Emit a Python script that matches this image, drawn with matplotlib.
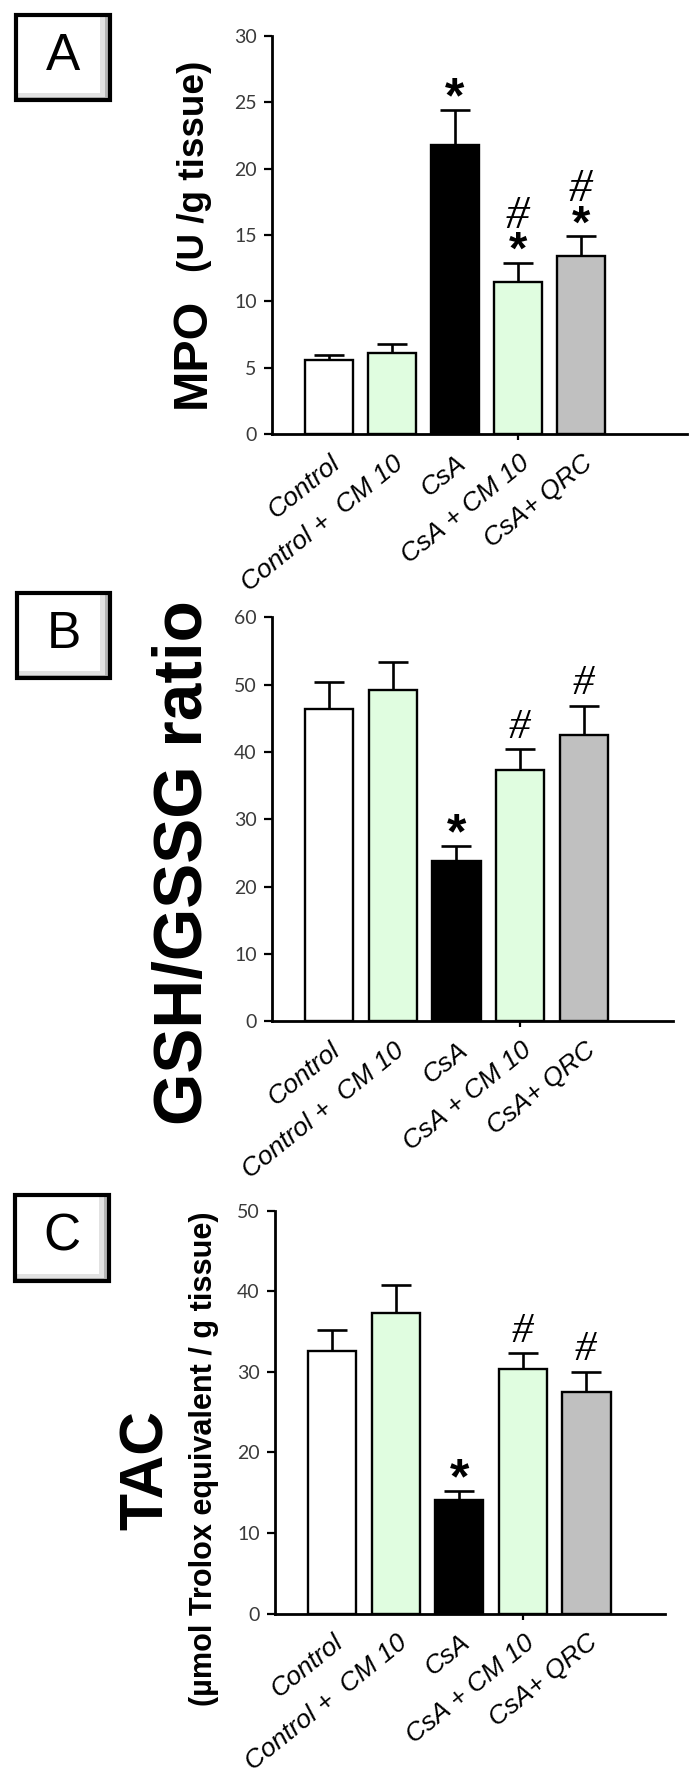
import matplotlib
matplotlib.use("Agg")
import matplotlib.pyplot as plt
import matplotlib.patches as mpatches
import matplotlib.transforms as mtransforms
from matplotlib.font_manager import FontProperties
import numpy as np

# mathtext fonts for the significance symbols (tight glyph boxes)
plt.rcParams["mathtext.fontset"] = "custom"
plt.rcParams["mathtext.bf"] = "Liberation Sans:bold"
plt.rcParams["mathtext.rm"] = "Liberation Serif:italic"
plt.rcParams["mathtext.it"] = "Liberation Serif:italic"

W, H = 692, 1780
DPI = 100

# ---------------- data ----------------
groups = ["Control", "Control +  CM 10", "CsA", "CsA + CM 10", "CsA+ QRC"]
bar_colors = ["#ffffff", "#e0fde0", "#000000", "#e0fde0", "#c0c0c0"]

mpo_mean = [5.6, 6.1, 21.8, 11.5, 13.4]
mpo_sem = [0.4, 0.7, 2.6, 1.4, 1.5]
mpo_marks = ["", "", "*", "*#", "*#"]
mpo_ticks = [0, 5, 10, 15, 20, 25, 30]

gsh_mean = [46.4, 49.2, 23.8, 37.4, 42.5]
gsh_sem = [4.0, 4.2, 2.2, 3.0, 4.4]
gsh_marks = ["", "", "*", "#", "#"]
gsh_ticks = [0, 10, 20, 30, 40, 50, 60]

tac_mean = [32.6, 37.3, 14.1, 30.3, 27.5]
tac_sem = [2.6, 3.5, 1.1, 2.0, 2.5]
tac_marks = ["", "", "*", "#", "#"]
tac_ticks = [0, 10, 20, 30, 40, 50]

panel_letters = ["A", "B", "C"]

# ---------------- figure ----------------
fig = plt.figure(figsize=(W / DPI, H / DPI), dpi=DPI)
fig.patch.set_facecolor("white")
renderer = fig.canvas.get_renderer()


def px_rect(left, top, right, bottom):
    return [left / W, 1 - bottom / H, (right - left) / W, (bottom - top) / H]


def fx(px):
    return px / W


def fy(py):
    return 1 - py / H


PT = 72.0 / DPI  # points per pixel

# symbol text, font size (pt) and height of the glyph centre above baseline (em)
sym_text = {"*": r"$\mathbf{*}$", "#": r"$\mathrm{\#}$"}
sym_size = {"*": 36, "#": 31}
stack_size = 34
sym_center = {"*": 0.55, "#": 0.338}
FIRST_GAP = 26   # px from error-bar cap to centre of first symbol
STEP = 25        # px between centres of stacked symbols


def fitted_size(text_obj, target_len, along="width"):
    """Scale a text's font size so that its extent matches target_len px."""
    fs = text_obj.get_fontsize()
    for _ in range(3):
        bb = text_obj.get_window_extent(renderer)
        cur = bb.width if along == "width" else bb.height
        fs = fs * target_len / cur
        text_obj.set_fontsize(fs)
    return fs


# size of category labels, fitted to the longest label
_probe = fig.text(0, 0, groups[1], fontstyle="italic",
                  family="Liberation Sans", fontsize=18)
cat_size = fitted_size(_probe, 200, "width")
_probe.remove()


def add_marks(ax, xi, ytop, m):
    if not m:
        return
    fs = sym_size[m[0]] if len(m) == 1 else stack_size
    em = fs / PT
    base = FIRST_GAP - sym_center[m[0]] * em     # baseline of lowest symbol
    ls = 1.2
    if len(m) > 1:
        fp = FontProperties(size=fs)
        _, lp_h, lp_d = renderer.get_text_width_height_descent(
            "lp", fp, ismath=False)
        diff = STEP + (sym_center[m[0]] - sym_center[m[1]]) * em
        ls = (diff - lp_d) / (lp_h - lp_d)
    txt = "\n".join(sym_text[s] for s in reversed(m))
    ax.annotate(txt, xy=(xi, ytop), xytext=(0, base * PT),
                textcoords="offset points", ha="center", va="baseline",
                multialignment="center", linespacing=ls, fontsize=fs,
                color="black", annotation_clip=False)


def panel(rect, xlim, ticks, means, sems, marks):
    ax = fig.add_axes(rect)
    x = np.arange(len(groups))
    ax.bar(x, means, width=0.76, color=bar_colors, edgecolor="black",
           linewidth=1.7, zorder=2)
    eb = ax.errorbar(x, means, yerr=[np.zeros(len(x)), sems], fmt="none",
                     ecolor="black", elinewidth=1.9, capsize=11, capthick=1.9,
                     zorder=3)
    eb[1][0].set_visible(False)
    ax.set_xlim(*xlim)
    ax.set_ylim(ticks[0], ticks[-1])
    ax.set_yticks(ticks)
    ax.set_yticklabels([str(t) for t in ticks], family="Lato", fontsize=14,
                       color="#3a3a3a")
    ax.tick_params(axis="y", direction="out", length=6, width=1.6, pad=5)
    ax.set_xticks([3])
    ax.set_xticklabels([""])
    ax.tick_params(axis="x", direction="out", length=4.5, width=1.6)
    for s in ("top", "right"):
        ax.spines[s].set_visible(False)
    for s in ("left", "bottom"):
        ax.spines[s].set_linewidth(2.0)
    ax.patch.set_alpha(0)

    # category labels
    trans = ax.get_xaxis_transform() + mtransforms.ScaledTranslation(
        8 / DPI, -26 / DPI, fig.dpi_scale_trans)
    for i, g in enumerate(groups):
        ax.text(x[i], 0, g, transform=trans, rotation=39, ha="right",
                va="center", rotation_mode="anchor", fontstyle="italic",
                family="Liberation Sans", fontsize=cat_size, color="black")

    # significance marks (stacked upwards from the error-bar cap)
    for i, m in enumerate(marks):
        add_marks(ax, x[i], means[i] + sems[i], m)
    return ax


axA = panel(px_rect(272, 35.6, 687, 434.4), (-0.905, 5.68), mpo_ticks,
            mpo_mean, mpo_sem, mpo_marks)
axB = panel(px_rect(272, 617.5, 673, 1021.3), (-0.894, 5.396), gsh_ticks,
            gsh_mean, gsh_sem, gsh_marks)
axC = panel(px_rect(275, 1210.6, 665, 1613.6), (-0.9, 5.237), tac_ticks,
            tac_mean, tac_sem, tac_marks)


# ---------------- y-axis titles ----------------
def vtext(x_px, y_bottom, y_top, s):
    t = fig.text(fx(x_px), fy(y_bottom), s, rotation=90,
                 rotation_mode="anchor", ha="left", va="baseline",
                 family="Liberation Sans", fontweight="bold", fontsize=30,
                 color="black")
    fitted_size(t, y_bottom - y_top, "height")
    return t


vtext(205, 408, 298, "MPO")
vtext(204, 272, 60, "(U /g tissue)")
vtext(202, 1125, 600, "GSH/GSSG ratio")
vtext(163, 1530, 1410, "TAC")
vtext(212, 1706, 1214, "(µmol Trolox equivalent / g tissue)")

# ---------------- panel letter boxes ----------------
boxes = [(14, 13, 112, 102), (15, 591, 112, 680), (13, 1193, 111, 1283)]
for (l, t, r, b), letter in zip(boxes, panel_letters):
    # bevel shading
    fig.add_artist(mpatches.Rectangle((fx(l), fy(b)), fx(r - l), (b - t) / H,
                                      transform=fig.transFigure,
                                      facecolor="#b5b5b5", edgecolor="none"))
    fig.add_artist(mpatches.Rectangle((fx(l + 2), fy(b - 5)),
                                      fx(r - l - 9), (b - t - 9) / H,
                                      transform=fig.transFigure,
                                      facecolor="#e2e2e2", edgecolor="none"))
    fig.add_artist(mpatches.Rectangle((fx(l + 2), fy(b - 9)),
                                      fx(r - l - 14), (b - t - 13) / H,
                                      transform=fig.transFigure,
                                      facecolor="white", edgecolor="none"))
    fig.add_artist(mpatches.Rectangle((fx(l + 2), fy(b - 2)),
                                      fx(r - l - 4), (b - t - 4) / H,
                                      transform=fig.transFigure,
                                      facecolor="none", edgecolor="black",
                                      linewidth=3.0))
    fig.text(fx((l + r) / 2), fy((t + b) / 2 - 1), letter, ha="center",
             va="center", family="Liberation Sans", fontsize=37,
             color="black")

fig.savefig("out.png", dpi=DPI, facecolor="white")
